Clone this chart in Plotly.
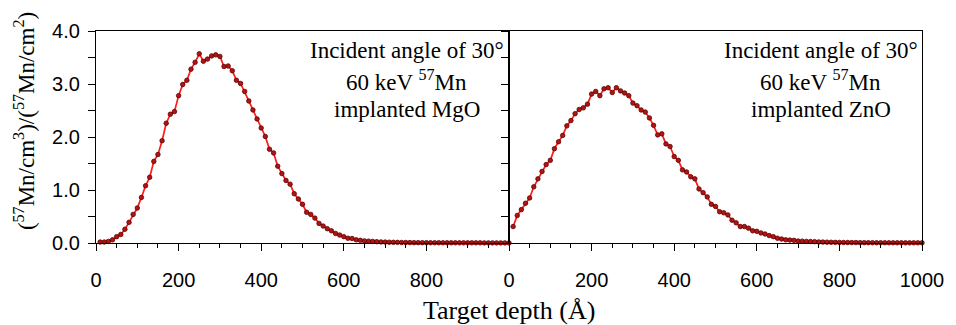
import plotly.graph_objects as go

depth = [10, 20, 30, 40, 50, 60, 70, 80, 90, 100,
         110, 120, 130, 140, 150, 160, 170, 180, 190, 200,
         210, 220, 230, 240, 250, 260, 270, 280, 290, 300,
         310, 320, 330, 340, 350, 360, 370, 380, 390, 400,
         410, 420, 430, 440, 450, 460, 470, 480, 490, 500,
         510, 520, 530, 540, 550, 560, 570, 580, 590, 600,
         610, 620, 630, 640, 650, 660, 670, 680, 690, 700,
         710, 720, 730, 740, 750, 760, 770, 780, 790, 800,
         810, 820, 830, 840, 850, 860, 870, 880, 890, 900,
         910, 920, 930, 940, 950, 960, 970, 980, 990, 1000]

mgo = [0.018, 0.018, 0.03, 0.06, 0.12, 0.16, 0.26, 0.39, 0.54, 0.66,
       0.86, 1.08, 1.24, 1.54, 1.67, 1.93, 2.26, 2.43, 2.48, 2.78,
       2.99, 3.07, 3.28, 3.41, 3.57, 3.43, 3.47, 3.53, 3.55, 3.52,
       3.33, 3.34, 3.25, 3.07, 3.01, 2.86, 2.68, 2.51, 2.34, 2.17,
       2.01, 1.77, 1.70, 1.45, 1.31, 1.18, 1.11, 0.93, 0.83, 0.73,
       0.58, 0.54, 0.47, 0.37, 0.32, 0.27, 0.23, 0.18, 0.15, 0.12,
       0.09, 0.085, 0.06, 0.05, 0.04, 0.035, 0.03, 0.025, 0.02, 0.018,
       0.015, 0.013, 0.012, 0.010, 0.009, 0.008, 0.007, 0.007, 0.006, 0.006,
       0.005, 0.005, 0.005, 0.004, 0.004, 0.004, 0.004, 0.003, 0.003, 0.003,
       0.003, 0.003, 0.003, 0.002, 0.002, 0.002, 0.002, 0.002, 0.002, 0.002]

zno = [0.31, 0.52, 0.63, 0.75, 0.85, 1.06, 1.21, 1.35, 1.48, 1.56,
       1.78, 1.91, 2.03, 2.21, 2.31, 2.44, 2.52, 2.55, 2.62, 2.81,
       2.86, 2.78, 2.91, 2.93, 2.84, 2.93, 2.87, 2.83, 2.78, 2.64,
       2.59, 2.51, 2.47, 2.36, 2.22, 2.04, 2.06, 1.87, 1.82, 1.63,
       1.56, 1.38, 1.34, 1.25, 1.21, 1.02, 0.95, 0.87, 0.73, 0.69,
       0.59, 0.57, 0.53, 0.43, 0.38, 0.31, 0.31, 0.28, 0.23, 0.22,
       0.19, 0.17, 0.14, 0.12, 0.09, 0.075, 0.06, 0.055, 0.05, 0.037,
       0.035, 0.03, 0.028, 0.025, 0.02, 0.018, 0.016, 0.014, 0.012, 0.011,
       0.010, 0.009, 0.008, 0.008, 0.007, 0.007, 0.006, 0.006, 0.005, 0.005,
       0.005, 0.004, 0.004, 0.004, 0.004, 0.003, 0.003, 0.003, 0.003, 0.003]

x_ticks_left = [0, 200, 400, 600, 800]
x_ticks_right = [0, 200, 400, 600, 800, 1000]
y_ticks = [0, 1, 2, 3, 4]

panel_text = {
    "left": ["Incident angle of 30°", "60 keV <sup>57</sup>Mn", "implanted MgO"],
    "right": ["Incident angle of 30°", "60 keV <sup>57</sup>Mn", "implanted ZnO"],
}

SERIF = "Liberation Serif"
SANS = "Liberation Sans"
LINE = "#ff1a1a"
MARK = "#b01515"

fig = go.Figure()
for xa, ya, vals in [("x", "y", mgo), ("x2", "y2", zno)]:
    fig.add_trace(go.Scatter(
        x=depth, y=vals, xaxis=xa, yaxis=ya, mode="lines+markers",
        line=dict(color=LINE, width=1.7),
        marker=dict(color=MARK, size=4.5, line=dict(color="#600000", width=0.8)),
        cliponaxis=False, showlegend=False))

axis_common = dict(showline=True, linecolor="black", linewidth=1.2, mirror=True,
                   showgrid=False, zeroline=False, ticks="outside", tickcolor="black",
                   tickfont=dict(family=SANS, size=20, color="black"))

# The page body adds an 8px offset, so the figure is 948x317 placed at (8, 8).
fig.update_layout(
    width=948, height=317,
    margin=dict(l=88, r=28, t=19, b=82),
    paper_bgcolor="white", plot_bgcolor="white",
    xaxis=dict(domain=[0, 0.5], range=[0, 1000], tickvals=x_ticks_left, ticklen=7,
               tickwidth=1.2, ticklabelstandoff=12, anchor="y",
               minor=dict(dtick=50, tick0=0, ticklen=4, ticks="outside", tickcolor="black", tickwidth=1),
               **axis_common),
    xaxis2=dict(domain=[0.5, 1], range=[0, 1000], tickvals=x_ticks_right, ticklen=7,
                tickwidth=1.2, ticklabelstandoff=12, anchor="y2",
                minor=dict(dtick=50, tick0=0, ticklen=4, ticks="outside", tickcolor="black", tickwidth=1),
                **axis_common),
    yaxis=dict(range=[0, 4], tickvals=y_ticks, tickformat=".1f", ticklen=7, tickwidth=1.2,
               anchor="x", ticklabelstandoff=4,
               minor=dict(dtick=0.5, tick0=0, ticklen=7, ticks="outside", tickcolor="black", tickwidth=1),
               **axis_common),
    yaxis2=dict(range=[0, 4], tickvals=y_ticks, ticklen=7, tickwidth=1.2, anchor="x2",
                showticklabels=False,
                minor=dict(dtick=0.5, tick0=0, ticklen=7, ticks="outside", tickcolor="black", tickwidth=1),
                **axis_common),
)

annotations = []
for key, xref, xc in [("left", "x", 752), ("right", "x2", 755)]:
    lines = panel_text[key]
    ys = [3.64, 3.06, 2.52]
    for t, yv in zip(lines, ys):
        annotations.append(dict(x=xc, y=yv, xref=xref, yref="y", text=t, showarrow=False,
                                xanchor="center", yanchor="middle",
                                font=dict(family=SERIF, size=23, color="black")))

annotations.append(dict(x=0, y=0.575, xref="paper", yref="paper", xshift=-72,
                        text="(<sup>57</sup>Mn/cm<sup>3</sup>)/(<sup>57</sup>Mn/cm<sup>2</sup>)",
                        textangle=-90, showarrow=False, xanchor="center", yanchor="middle",
                        font=dict(family=SERIF, size=23, color="black")))
annotations.append(dict(x=0.5, y=0, xref="paper", yref="paper", yshift=-67,
                        text="Target depth (Å)", showarrow=False,
                        xanchor="center", yanchor="middle",
                        font=dict(family=SERIF, size=26, color="black")))
fig.update_layout(annotations=annotations)

fig.write_html("out.html")
